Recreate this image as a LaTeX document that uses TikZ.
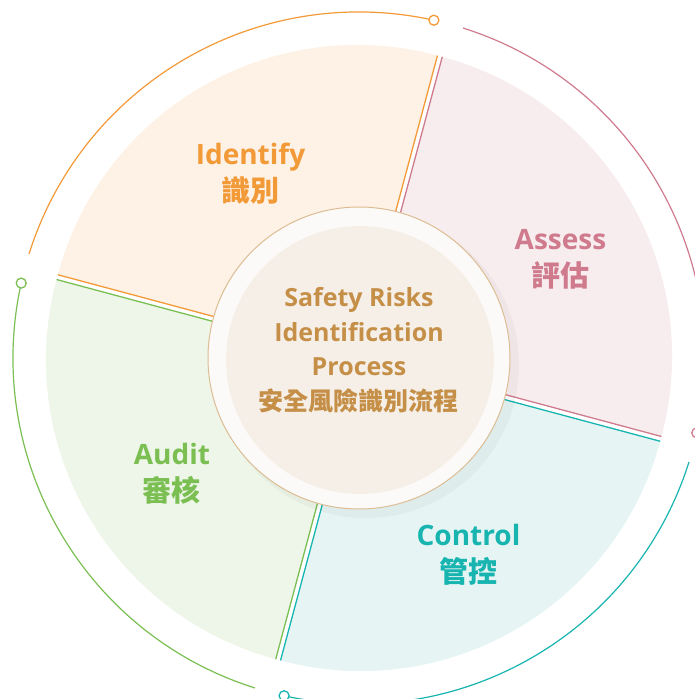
\documentclass[tikz,border=0pt]{standalone}
\usepackage{fontspec}
\setmainfont{Open Sans}
\newfontfamily\cjk{Noto Sans CJK TC}
\usepackage{tikz}
\usetikzlibrary{positioning}
\definecolor{idcol}{HTML}{F29A38}
\definecolor{idfill}{HTML}{FEF1E5}
\definecolor{ascol}{HTML}{CF7B8D}
\definecolor{asfill}{HTML}{F7EDEF}
\definecolor{cocol}{HTML}{17B4B0}
\definecolor{cofill}{HTML}{E6F5F4}
\definecolor{aucol}{HTML}{7BBF53}
\definecolor{aufill}{HTML}{EEF6E9}
\definecolor{hubline}{HTML}{DCBD94}
\definecolor{hubfill}{HTML}{F5EFE7}
\definecolor{hubtext}{HTML}{C58F48}

\begin{document}
\begin{tikzpicture}[
  x=1pt, y=1pt,
  edge/.style={line width=1.3pt},
  ring/.style={line width=1.2pt},
  knob/.style={circle, draw, fill=white, line width=1.3pt, inner sep=0pt, minimum size=10pt},
  stage/.style={font=\bfseries\fontsize{28}{37}\selectfont, align=center},
  title/.style={font=\bfseries\fontsize{25}{34.5}\selectfont, align=center, text=hubtext}
]
\clip (-359,-341) rectangle (336,358);

% four wedges, each pushed out along its bisector so a white gap shows
\begin{scope}[shift={(120:3.5)}]
  \fill[idfill] (0,0) -- (75:310) arc (75:165:310) -- cycle;
  \draw[edge, idcol] (75:310) -- (0,0) -- (165:310);
\end{scope}
\begin{scope}[shift={(30:3.5)}]
  \fill[asfill] (0,0) -- (-15:310) arc (-15:75:310) -- cycle;
  \draw[edge, ascol] (-15:310) -- (0,0) -- (75:310);
\end{scope}
\begin{scope}[shift={(-60:3.5)}]
  \fill[cofill] (0,0) -- (-105:310) arc (-105:-15:310) -- cycle;
  \draw[edge, cocol] (-105:310) -- (0,0) -- (-15:310);
\end{scope}
\begin{scope}[shift={(210:3.5)}]
  \fill[aufill] (0,0) -- (165:310) arc (165:255:310) -- cycle;
  \draw[edge, aucol] (165:310) -- (0,0) -- (255:310);
\end{scope}

% outer ring segments with a knob at the start
\draw[ring, idcol] (77.5:346) arc (77.5:162.5:346);
\draw[ring, ascol] (-12.5:346) arc (-12.5:72.5:346);
\draw[ring, cocol] (-102.5:346) arc (-102.5:-17.5:346);
\draw[ring, aucol] (167.5:346) arc (167.5:252.5:346);
\node[knob, draw=idcol] (idknob) at (77.5:346) {};
\node[knob, draw=ascol] (asknob) at (-12.5:346) {};
\node[knob, draw=cocol] (coknob) at (-102.5:346) {};
\node[knob, draw=aucol] (auknob) at (167.5:346) {};

% stage labels
\node[stage, text=idcol] (identify) at (-108.5,184.5) {Identify\\{\cjk\fontsize{29}{37}\selectfont 識別}};
\node[stage, text=ascol] (assess) at (201.5,98.5) {Assess\\{\cjk\fontsize{29}{37}\selectfont 評估}};
\node[stage, text=cocol] (control) at (109.5,-197) {Control\\{\cjk\fontsize{29}{37}\selectfont 管控}};
\node[stage, text=aucol] (audit) at (-187,-116) {Audit\\{\cjk\fontsize{29}{37}\selectfont 審核}};

% hub in the middle
\fill[black, opacity=0.03] (7,-7) circle (153);
\node[circle, draw=hubline, line width=1pt, fill=white!70!hubfill, minimum size=302pt, inner sep=0pt] (hub) at (0,0) {};
\fill[hubfill] (1,-2) circle (134);
\node[title] (hubtitle) at (0,8) {Safety Risks\\Identification\\Process\\{\cjk\fontsize{25}{34.5}\selectfont 安全風險識別流程}};
\end{tikzpicture}
\end{document}
